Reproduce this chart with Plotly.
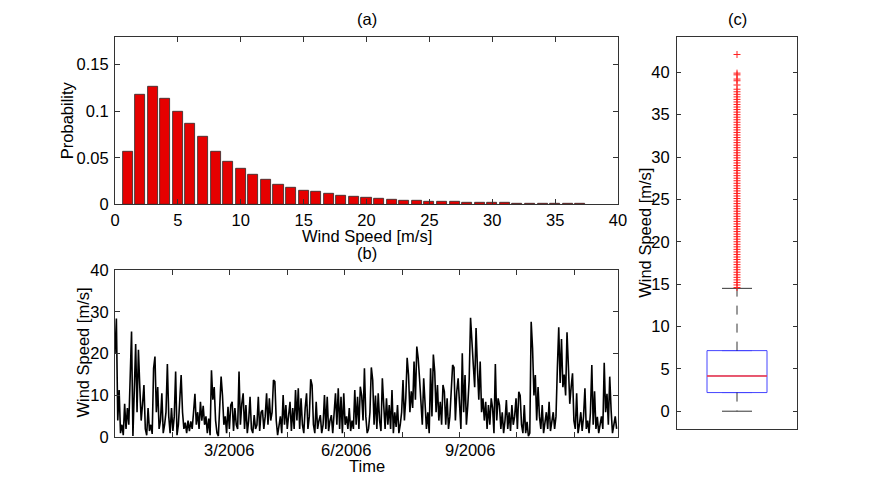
import plotly.graph_objects as go

# ---------------- data ----------------
# (a) histogram of wind speed
speed_bins = list(range(1, 38))
probability = [0.0561, 0.1176, 0.1266, 0.1133, 0.0996, 0.0863, 0.0727, 0.0565, 0.0457, 0.0378,
               0.0320, 0.0266, 0.0212, 0.0180, 0.0150, 0.0132, 0.0110, 0.0093, 0.0082, 0.0071,
               0.0057, 0.0046, 0.0039, 0.0036, 0.0029, 0.0025, 0.0023, 0.0020, 0.0018, 0.0016,
               0.0013, 0.0010, 0.0008, 0.0006, 0.0005, 0.0004, 0.0002]

# (b) daily-sampled wind speed series through 2006 (m/s)
wind_speed = [
    20, 28.4, 4, 11.3, 1, 3, 0.5, 8, 2, 7,
    3, 12, 25.3, 0.3, 9, 22.3, 6, 20.9, 12, 4,
    8, 12.5, 2, 0.5, 7, 1.5, 3, 0.8, 16.5, 19.3,
    6, 12, 2, 4, 10.5, 1, 3, 6, 17.5, 5,
    1, 7, 1.5, 5, 15.7, 0.5, 3, 9, 14.9, 6,
    2, 3.5, 1, 4, 1.5, 3.8, 2, 6, 10.4, 3,
    6, 2, 8.5, 4, 7.5, 3, 5, 1, 4.5, 0.5,
    16, 9, 12, 4, 1, 0.3, 6, 14.5, 10, 3,
    5, 1, 7.3, 2, 7.7, 8.5, 1.5, 7, 3, 2,
    15.7, 3, 8, 10.5, 2, 7.7, 1, 4, 9.7, 2,
    1, 5.3, 2, 3, 9.7, 1.5, 6, 6.5, 2, 5,
    10.5, 3, 9.3, 4, 6, 13.7, 13.3, 4, 0.5, 3,
    5, 1, 10.1, 3, 7.7, 2, 5, 8.5, 1.5, 7,
    2, 11.3, 4, 11.7, 2, 9.3, 3, 1, 7, 10.5,
    2, 5, 13.9, 12.5, 3, 1, 8.5, 2, 4, 5.3,
    1, 3, 10.1, 2, 9.7, 1.5, 4, 5.3, 1, 7,
    10.5, 3, 11.7, 2, 9.7, 1, 10.5, 3, 5, 2,
    7, 1.5, 4, 2, 11.3, 3, 9.7, 2, 12.1, 10,
    4, 16.5, 5, 1, 2, 6, 16.7, 13.7, 3, 10,
    2, 10.5, 4, 1.5, 14.1, 7.7, 2, 9.3, 3, 7.7,
    2, 11.3, 1, 6, 2.5, 7.7, 1, 3, 6, 13.7,
    4, 9.3, 19, 14.9, 6, 11, 7, 18.1, 9, 21.7,
    18.9, 14, 7.7, 3, 14.1, 9.3, 2, 6, 1, 16.5,
    5, 19.8, 15.7, 6, 12.5, 4, 8.5, 3, 12.5, 10.9,
    3, 9.3, 2, 5, 11.7, 17.3, 16.7, 4, 10.9, 14.1,
    8, 2, 20.1, 6, 14.9, 3, 7.7, 13.7, 28.6, 21.3,
    17.3, 12, 26.1, 16.5, 9, 18.1, 6, 9.3, 4, 8.5,
    2, 7.7, 3, 9.3, 7, 1, 17.5, 4, 9.3, 7.7,
    2, 6, 1, 4, 8.9, 2, 6, 1.5, 7.7, 3,
    5, 9.3, 2, 10.9, 10, 3, 1, 7.7, 1, 3.7,
    0.3, 1, 27.6, 21.3, 10, 14.9, 4, 12, 5, 2,
    7.7, 1, 3, 6, 2, 8.5, 1.5, 4, 6, 2,
    5, 16.5, 26.3, 13, 23.5, 12, 15, 10, 25.1, 17,
    8, 12, 15.3, 4, 2, 10.5, 1, 3, 6, 1.5,
    5, 11.7, 2, 4, 1, 6, 17.3, 3, 11, 2,
    4.9, 1, 3, 5, 2, 17.8, 6, 10.4, 3, 14.5,
    6.5, 1, 3, 5, 2,
]
hours_per_sample = 24
time_tick_hours = [1000, 2000, 3000, 4000, 5000, 6000, 7000, 8000]
month_labels = ["3/2006", "6/2006", "9/2006"]
month_label_hours = [1985, 4015, 6190]

# (c) box plot statistics
box_q1 = 2.2
box_median = 4.16
box_q3 = 7.15
box_lower = 0.0
box_upper = 14.5
outliers = [14.6, 14.9, 15.2, 15.5, 15.8, 16.1, 16.4, 16.7, 17.0, 17.3, 17.6, 17.9, 18.2, 18.5,
            18.8, 19.1, 19.4, 19.7, 20.0, 20.3, 20.6, 20.9, 21.2, 21.5, 21.8, 22.1, 22.4, 22.7,
            23.0, 23.3, 23.6, 23.9, 24.2, 24.5, 24.8, 25.1, 25.4, 25.7, 26.0, 26.3, 26.6, 26.9,
            27.2, 27.5, 27.8, 28.1, 28.4, 28.7, 29.0, 29.3, 29.6, 29.9, 30.2, 30.5, 30.8, 31.1,
            31.4, 31.7, 32.0, 32.3, 32.6, 32.9, 33.2, 33.5, 33.8, 34.1, 34.4, 34.7, 35.0, 35.3,
            35.6, 35.9, 36.2, 36.5, 36.8, 37.1, 37.4, 37.7, 38.0, 38.5, 39.0, 39.2, 39.7, 39.9, 42.1]

# ---------------- figure ----------------
W, H = 883, 491
FONT = "Liberation Sans, Arial, Helvetica, sans-serif"
FS = 16.5
AX = "#333333"

def px(x):
    return x / W

def py(y):
    return 1 - y / H

fig = go.Figure()

fig.add_trace(go.Bar(x=speed_bins, y=probability, width=0.8,
                     marker=dict(color="#e60000", line=dict(color="#2a2a2a", width=0.8)),
                     xaxis="x", yaxis="y", showlegend=False))

time_hours = [i * hours_per_sample for i in range(len(wind_speed))]
fig.add_trace(go.Scatter(x=time_hours, y=wind_speed, mode="lines",
                         line=dict(color="black", width=1.6),
                         xaxis="x2", yaxis="y2", showlegend=False))

# box panel
fig.add_trace(go.Scatter(x=[1, 1, None, 1, 1], y=[box_q3, box_upper, None, box_q1, box_lower],
                         mode="lines", line=dict(color="black", width=0.8, dash="dash"),
                         xaxis="x3", yaxis="y3", showlegend=False))
fig.add_trace(go.Scatter(x=[0.875, 1.125, None, 0.875, 1.125],
                         y=[box_upper, box_upper, None, box_lower, box_lower],
                         mode="lines", line=dict(color="black", width=0.8),
                         xaxis="x3", yaxis="y3", showlegend=False))
fig.add_trace(go.Box(x=[1], q1=[box_q1], median=[box_median], q3=[box_q3],
                     lowerfence=[box_q1], upperfence=[box_q3], width=0.5,
                     line=dict(color="#4545ff", width=1), fillcolor="rgba(0,0,0,0)",
                     boxpoints=False, xaxis="x3", yaxis="y3", showlegend=False))
fig.add_trace(go.Scatter(x=[0.75, 1.25], y=[box_median, box_median], mode="lines",
                         line=dict(color="#ff4040", width=1.6),
                         xaxis="x3", yaxis="y3", showlegend=False))
fig.add_trace(go.Scatter(x=[1] * len(outliers), y=outliers, mode="markers",
                         marker=dict(symbol="cross-thin", size=5, line=dict(color="#ff2020", width=1)),
                         xaxis="x3", yaxis="y3", showlegend=False))

common = dict(showline=True, linecolor=AX, linewidth=1, mirror="ticks", ticks="inside",
              tickcolor=AX, ticklen=5, showgrid=False, zeroline=False, automargin=False,
              tickfont=dict(family=FONT, size=FS, color="black"))

xa = (px(115), px(618))
xc = (px(677), px(797))

fig.update_layout(
    template="none",
    width=W, height=H, margin=dict(l=0, r=0, t=0, b=0, pad=0, autoexpand=False),
    paper_bgcolor="white", plot_bgcolor="white",
    font=dict(family=FONT, size=FS, color="black"),
    bargap=0, showlegend=False,
    xaxis=dict(domain=list(xa), anchor="y", range=[0, 40], tickvals=[0, 5, 10, 15, 20, 25, 30, 35, 40],
               ticklabelstandoff=1, **common),
    yaxis=dict(domain=[py(204.3), py(36.7)], anchor="x", range=[0, 0.18],
               tickvals=[0, 0.05, 0.1, 0.15], ticktext=["0", "0.05", "0.1", "0.15"],
               ticklabelstandoff=2, **common),
    xaxis2=dict(domain=list(xa), anchor="y2", range=[0, 8760], tickvals=time_tick_hours,
                ticktext=[""] * len(time_tick_hours), **common),
    yaxis2=dict(domain=[py(437.3), py(270)], anchor="x2", range=[0, 40],
                tickvals=[0, 10, 20, 30, 40], ticklabelstandoff=2, **common),
    xaxis3=dict(domain=list(xc), anchor="y3", range=[0.5, 1.5], tickvals=[], automargin=False,
                showline=True, linecolor=AX, linewidth=1, mirror=True, showgrid=False, zeroline=False),
    yaxis3=dict(domain=[py(429), py(36.7)], anchor="x3", range=[-2.1, 44.2],
                tickvals=[0, 5, 10, 15, 20, 25, 30, 35, 40], ticklabelstandoff=3,
                **{**common, "ticklen": 4}),
)

ann = []
def label(text, x, y, angle=0, xref="paper"):
    ann.append(dict(text=text, x=x, y=y, xref=xref, yref="paper", showarrow=False,
                    xanchor="center", yanchor="middle", textangle=angle,
                    font=dict(family=FONT, size=FS, color="black")))

label("(a)", px(366.5), py(19))
label("(b)", px(366.5), py(253))
label("(c)", px(737), py(19))
label("Wind Speed [m/s]", px(366.5), py(236))
label("Time", px(366.5), py(466))
label("Probability", px(66.7), py(120.5), -90)
label("Wind Speed [m/s]", px(82.6), py(353), -90)
label("Wind Speed [m/s]", px(645), py(232.8), -90)
for t, h in zip(month_labels, month_label_hours):
    label(t, h, py(450), xref="x2")

fig.update_layout(annotations=ann)
fig.write_html("out.html", config={"displayModeBar": False},
               post_script="document.body.style.margin='0';document.body.style.padding='0';")
